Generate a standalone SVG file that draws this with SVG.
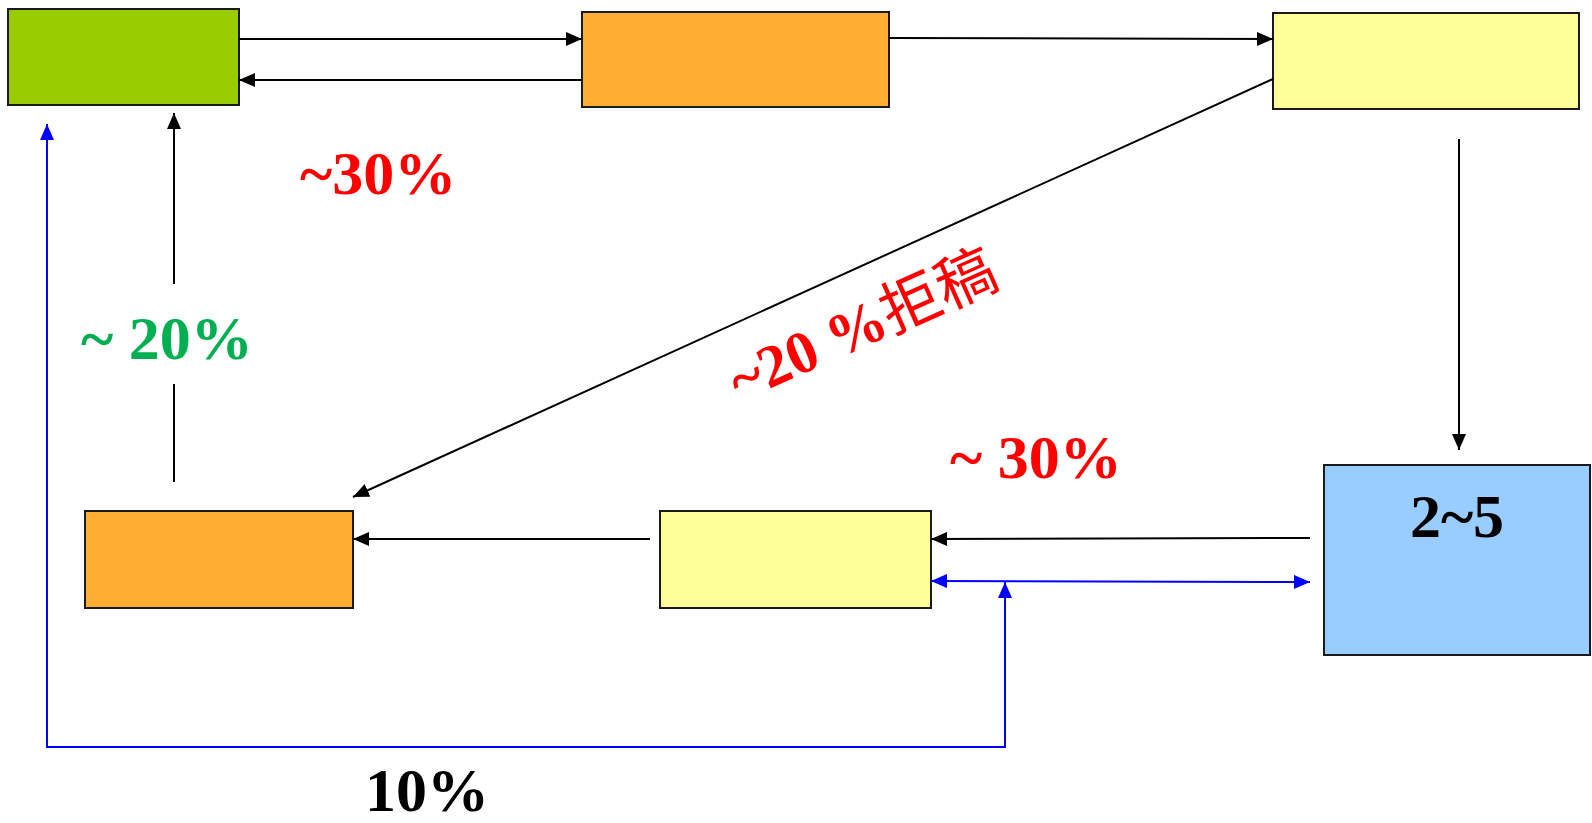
<svg xmlns="http://www.w3.org/2000/svg" width="1592" height="823" viewBox="0 0 1592 823">
<style>
.box{stroke:#1a1a1a;stroke-width:2}
.c{fill:none;stroke:#000;stroke-width:2}
.b{fill:none;stroke:#0000ff;stroke-width:2}
.t{font-family:"Liberation Serif","Times New Roman",serif;font-weight:bold;font-size:62px}
</style>
<defs>
<marker id="ak" markerUnits="userSpaceOnUse" markerWidth="16" markerHeight="14" refX="16" refY="7" orient="auto-start-reverse"><path d="M0,0 L16,7 L0,14 z" fill="#000"/></marker>
<marker id="ab" markerUnits="userSpaceOnUse" markerWidth="16" markerHeight="14" refX="16" refY="7" orient="auto-start-reverse"><path d="M0,0 L16,7 L0,14 z" fill="#0000ff"/></marker>
</defs>
<rect width="1592" height="823" fill="#fff"/>
<g id="n-green"><rect class="box" x="8" y="9" width="231" height="96" fill="#99cc00"/></g>
<g id="n-orange-top"><rect class="box" x="582" y="12" width="307" height="95" fill="#ffad33"/></g>
<g id="n-yellow-top"><rect class="box" x="1273" y="13" width="306" height="96" fill="#ffff99"/></g>
<g id="n-blue"><rect class="box" x="1324" y="465" width="266" height="190" fill="#99ccff"/><text class="t" x="1457" y="537" text-anchor="middle" fill="#000">2~5</text></g>
<g id="n-yellow-bottom"><rect class="box" x="660" y="511" width="271" height="97" fill="#ffff99"/></g>
<g id="n-orange-bottom"><rect class="box" x="85" y="511" width="268" height="97" fill="#ffad33"/></g>
<g id="connectors">
<line class="c" x1="239" y1="39" x2="582" y2="39" marker-end="url(#ak)"/>
<line class="c" x1="582" y1="80" x2="239" y2="80" marker-end="url(#ak)"/>
<line class="c" x1="889" y1="38" x2="1273" y2="39" marker-end="url(#ak)"/>
<line class="c" x1="1273" y1="79" x2="353" y2="497" marker-end="url(#ak)"/>
<line class="c" x1="1459" y1="139" x2="1459" y2="450" marker-end="url(#ak)"/>
<line class="c" x1="1310" y1="538" x2="931" y2="539" marker-end="url(#ak)"/>
<line class="c" x1="650" y1="539" x2="353" y2="539" marker-end="url(#ak)"/>
<line class="c" x1="174" y1="482" x2="174" y2="384"/>
<line class="c" x1="174" y1="284" x2="174" y2="113" marker-end="url(#ak)"/>
<line class="b" x1="931" y1="581" x2="1310" y2="582" marker-start="url(#ab)" marker-end="url(#ab)"/>
<path class="b" d="M1005,582 L1005,747 L47,747 L47,124" marker-start="url(#ab)" marker-end="url(#ab)"/>
</g>
<g id="labels">
<text class="t" x="300" y="194" fill="#ff0000">~30%</text>
<text class="t" x="81" y="359" fill="#00b050">~ 20%</text>
<text class="t" x="950" y="478" fill="#ff0000">~ 30%</text>
<text class="t" x="365" y="811" fill="#000">10%</text>
<text transform="translate(740,402) rotate(-24)" fill="#ff0000" style="font-size:60px"><tspan style="font-family:'Liberation Serif','Times New Roman',serif;font-weight:bold">~20 %</tspan><tspan style="font-family:'Noto Sans CJK SC',sans-serif">拒稿</tspan></text>
</g>
</svg>
